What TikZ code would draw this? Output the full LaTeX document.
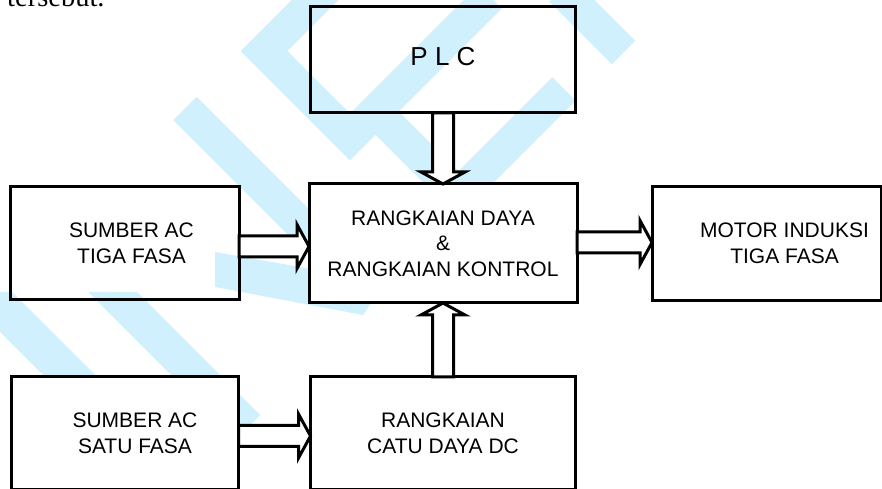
\documentclass[tikz,border=0pt]{standalone}
\usepackage{fontspec}
\setmainfont{Liberation Sans}
\newfontfamily\pageserif{Liberation Serif}
\usetikzlibrary{calc,positioning}
\definecolor{markblue}{HTML}{CFF0FC}

\tikzset{
  blockarrow/.style={draw,line width=3pt,fill=white,line join=miter,
    to path={let \p1=(\tikztostart), \p2=(\tikztotarget),
      \n1={veclen(\x2-\x1,\y2-\y1)}, \n2={(\x2-\x1)/\n1}, \n3={(\y2-\y1)/\n1} in
      ({\x1-10.5*\n3},{\y1+10.5*\n2})
      -- ({\x2-12*\n2-10.5*\n3},{\y2-12*\n3+10.5*\n2})
      -- ({\x2-12*\n2-22*\n3},{\y2-12*\n3+22*\n2})
      -- (\p2)
      -- ({\x2-12*\n2+22*\n3},{\y2-12*\n3-22*\n2})
      -- ({\x2-12*\n2+10.5*\n3},{\y2-12*\n3-10.5*\n2})
      -- ({\x1+10.5*\n3},{\y1-10.5*\n2}) -- cycle}}
}

\begin{document}
\begin{tikzpicture}[
  x=1pt,y=1pt,
  box/.style={draw,line width=3pt,minimum width=229pt,minimum height=113pt,inner sep=0pt,outer sep=0pt,align=center},
  boxtext/.style={align=center},
  every node/.style={font=\fontsize{21}{25.5}\selectfont}
]
  \useasboundingbox (0,0) rectangle (882,489);

  \begin{scope}[yshift=489pt,yscale=-1]
    \draw[markblue,line width=33pt] (330,-15) -- (264,51) -- (350,137) -- (490,-3);
    \draw[markblue,line width=33pt] (185,108.5) -- (330,253.5);
    \draw[markblue,line width=33pt] (382,118) -- (458.5,194.5) -- (564,89);
    \draw[markblue,line width=33pt] (561,-10) -- (623.5,52.5);
    \fill[markblue] (215,252) -- (385,282) -- (363,315) -- (215,287) -- cycle;
    \fill[markblue] (88,292) -- (137,292) -- (260,415) -- (235.5,439.5) -- cycle;
    \fill[markblue] (-40,292) -- (12,292) -- (97,377) -- (45,377) -- cycle;
  \end{scope}

  \node[font=\pageserif\fontsize{28.5}{30}\selectfont,anchor=base west,inner sep=0pt] (tersebut) at (7,482) {tersebut.};

  \node[box,fill=white,minimum width=268pt,minimum height=119pt] (daya) at (443,245.5) {RANGKAIAN DAYA\\\&\\RANGKAIAN KONTROL};
  \node[box,minimum width=265pt,minimum height=106pt,above=71pt of daya,label={[font=\fontsize{26}{30}\selectfont,yshift=3.5pt]center:P L C}] (plc) {};
  \node[box,left=70pt of daya,label={[boxtext,xshift=7pt]center:{SUMBER AC\\TIGA FASA}}] (acTiga) {};
  \node[box,minimum height=114pt,right=75pt of daya,label={[boxtext,xshift=18pt]center:{MOTOR INDUKSI\\TIGA FASA}}] (motor) {};
  \node[box,fill=white,minimum width=265pt,below=74pt of daya] (dcSupply) {RANGKAIAN\\CATU DAYA DC};
  \node[box,fill=white,minimum width=227pt,left=72pt of dcSupply,label={[boxtext,xshift=10pt]center:{SUMBER AC\\SATU FASA}}] (acSatu) {};

  \draw[blockarrow] (daya.north |- plc.south) to (daya.north);
  \draw[blockarrow] (daya.south |- dcSupply.north) to (daya.south);
  \draw[blockarrow] ([yshift=-3pt]acTiga.east) to ([yshift=-3pt]daya.west);
  \draw[blockarrow] ([yshift=1pt]daya.east) to ([yshift=1pt]motor.west);
  \draw[blockarrow] ([yshift=-2.5pt]acSatu.east) to ([yshift=-2.5pt]dcSupply.west);
\end{tikzpicture}
\end{document}
